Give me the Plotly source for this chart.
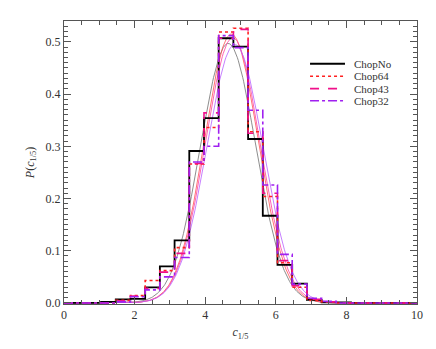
import numpy as np
import plotly.graph_objects as go

# histogram bins (left edge of first bin and common bin width)
bin_start = 1.05
bin_width = 0.4165

chop_no = [0.002, 0.007, 0.008, 0.030, 0.070, 0.120, 0.291, 0.354, 0.507,
           0.491, 0.314, 0.167, 0.073, 0.037, 0.006, 0.001, 0.001]
chop64 = [0.0, 0.005, 0.014, 0.043, 0.062, 0.106, 0.266, 0.336, 0.519,
          0.526, 0.328, 0.204, 0.077, 0.030, 0.005, 0.002, 0.0]
chop43 = [0.0, 0.004, 0.013, 0.028, 0.059, 0.095, 0.267, 0.364, 0.507,
          0.524, 0.325, 0.210, 0.081, 0.033, 0.007, 0.002, 0.0]
chop32 = [0.0, 0.002, 0.012, 0.025, 0.050, 0.087, 0.270, 0.300, 0.512,
          0.489, 0.369, 0.226, 0.093, 0.036, 0.009, 0.003, 0.0]

names = ['ChopNo', 'Chop64', 'Chop43', 'Chop32']
colors = ['#000000', '#ff2020', '#f0108a', '#a020f0']
fit_colors = ['#707070', '#ff5050', '#ff3ca0', '#b860ff']
dashes = ['solid', 'dot', 'dash', 'dashdot']

# gaussian fit parameters: amplitude, mean, sigma
fit_amp = [0.497, 0.515, 0.508, 0.495]
fit_mean = [4.65, 4.74, 4.78, 4.84]
fit_sigma = [0.78, 0.76, 0.77, 0.79]

series = [chop_no, chop64, chop43, chop32]

fig = go.Figure()
xs = np.linspace(0, 10, 400)
for i in range(4):
    fig.add_trace(go.Scatter(x=xs, y=fit_amp[i] * np.exp(-0.5 * ((xs - fit_mean[i]) / fit_sigma[i]) ** 2),
                             mode='lines', line=dict(color=fit_colors[i], width=0.8),
                             showlegend=False, hoverinfo='skip'))

for i, vals in enumerate(series):
    edges = [bin_start + bin_width * k for k in range(len(vals) + 1)]
    x = [0] + edges + [10]
    y = [0] + vals + [0, 0]
    fig.add_trace(go.Scatter(x=x, y=y, mode='lines', name=names[i], line_shape='hv', showlegend=False,
                             line=dict(color=colors[i], width=1.8 if i == 0 else 1.6, dash=dashes[i])))

# legend drawn by hand, IDL style (tight rows)
leg_y = [0.849, 0.805, 0.761, 0.718]
for i in range(4):
    fig.add_shape(type='line', xref='paper', yref='paper', x0=0.697, x1=0.796, y0=leg_y[i], y1=leg_y[i],
                  line=dict(color=colors[i], width=1.8 if i == 0 else 1.6, dash=dashes[i]))
    fig.add_annotation(xref='paper', yref='paper', x=0.816, y=leg_y[i], text=names[i], showarrow=False,
                       xanchor='left', yanchor='middle',
                       font=dict(family='Liberation Serif', size=11, color='#333333'))

axis_style = dict(showline=True, linecolor='#555555', linewidth=1, mirror='allticks',
                  ticks='inside', ticklen=7, tickcolor='#555555', showgrid=False, zeroline=False,
                  tickfont=dict(family='Liberation Serif', size=12, color='#333333'))

fig.update_layout(
    width=428, height=341,
    margin=dict(l=56, r=19, t=13, b=42),
    plot_bgcolor='white', paper_bgcolor='white',
    xaxis=dict(range=[0, 10], dtick=2, tick0=0,
               minor=dict(dtick=0.5, ticks='inside', ticklen=4, tickcolor='#555555'),
               title=dict(text='<i>c</i><sub>1/5</sub>', standoff=6,
                          font=dict(family='Liberation Serif', size=12, color='#333333')),
               **axis_style),
    yaxis=dict(range=[-0.002, 0.54], dtick=0.1, tick0=0, tickformat='.1f',
               minor=dict(dtick=0.01, ticks='inside', ticklen=4, tickcolor='#555555'),
               title=dict(text='<i>P</i>(<i>c</i><sub>1/5</sub>)', standoff=8,
                          font=dict(family='Liberation Serif', size=12, color='#333333')),
               **axis_style),
    showlegend=False,
)

fig.write_html("out.html")
